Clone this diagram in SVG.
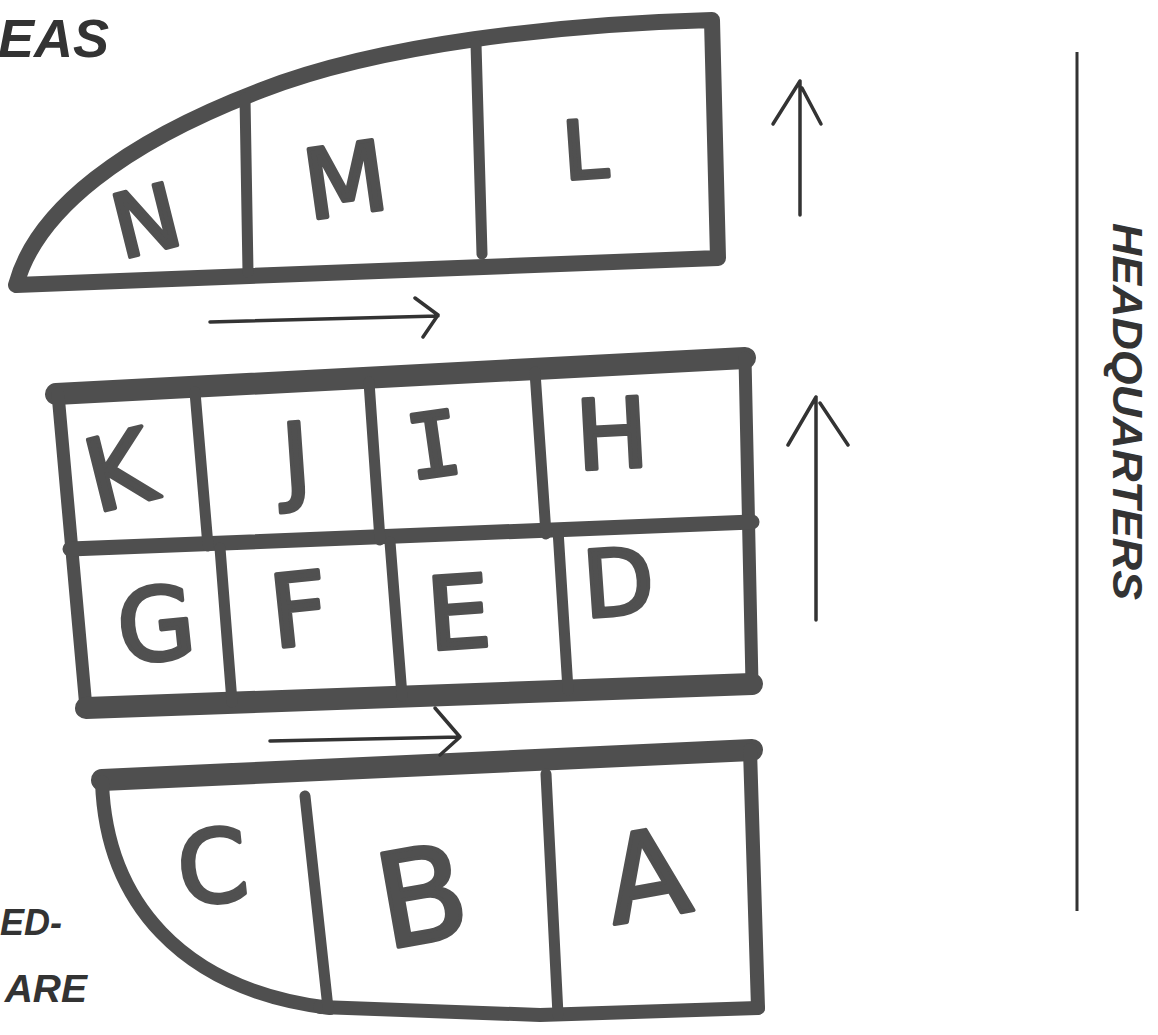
<svg xmlns="http://www.w3.org/2000/svg" width="1158" height="1035" viewBox="0 0 1158 1035">
<defs>
<style>
.wall{fill:none;stroke:#4f4f4f;stroke-linecap:round;stroke-linejoin:round}
.thick{stroke-width:16}
.mid{stroke-width:11}
.arrow{fill:none;stroke:#333;stroke-width:3.5;stroke-linecap:round;stroke-linejoin:round}
.lbl{font-family:"Liberation Sans",Arial,sans-serif;font-weight:bold;font-style:italic;fill:#333}
.hand{font-family:"DejaVu Sans","Liberation Sans",sans-serif;fill:#505050;stroke:#505050;stroke-width:4;stroke-linejoin:round;text-anchor:middle}
.mono{font-family:"DejaVu Sans Mono","Liberation Mono",monospace}
</style>
</defs>
<rect width="1158" height="1035" fill="#fff"/>

<g id="labels">
<text class="lbl" x="-2" y="57" font-size="54">EAS</text>
<text class="lbl" x="0" y="935" font-size="36">ED-</text>
<text class="lbl" x="87" y="1002" font-size="39" text-anchor="end">ARE</text>
<text class="lbl" font-size="42" transform="translate(1113,223) rotate(90)" textLength="377" lengthAdjust="spacingAndGlyphs">HEADQUARTERS</text>
</g>

<g id="hq-line">
<line x1="1077" y1="52" x2="1077" y2="911" stroke="#333" stroke-width="3"/>
</g>

<g id="block-top">
<path class="wall thick" d="M 712 20 C 560 24 380 44 262 90 C 125 142 36 210 16 285 L 718 258 L 712 20 Z"/>
<path class="wall mid" d="M 245 98 L 248 272"/>
<path class="wall mid" d="M 476 44 L 482 254"/>
<text class="hand" font-size="88" x="146" y="252" transform="rotate(-14 146 220)">N</text>
<text class="hand" font-size="96" x="345" y="214" transform="rotate(-8 345 178)">M</text>
<text class="hand" font-size="80" x="585" y="178" transform="rotate(-4 585 150)">L</text>
</g>

<g id="block-middle">
<path class="wall" stroke-width="22" d="M 56 394 L 745 358"/>
<path class="wall" stroke-width="13" d="M 58 394 L 86 708"/>
<path class="wall" stroke-width="13" d="M 745 358 L 752 684"/>
<path class="wall" stroke-width="22" d="M 86 708 L 752 684"/>
<path class="wall" stroke-width="15" d="M 70 549 L 752 522"/>
<path class="wall mid" d="M 195 392 L 208 546"/>
<path class="wall mid" d="M 369 382 L 380 540"/>
<path class="wall mid" d="M 535 372 L 546 534"/>
<path class="wall mid" d="M 220 548 L 232 702"/>
<path class="wall mid" d="M 390 542 L 402 696"/>
<path class="wall mid" d="M 558 530 L 568 690"/>
<text class="hand" font-size="100" x="118" y="506" transform="rotate(-14 118 465)">K</text>
<text class="hand" font-size="96" x="296" y="492" transform="rotate(-4 296 455)">J</text>
<text class="hand mono" font-size="88" x="434" y="476" transform="rotate(-8 434 445)">I</text>
<text class="hand" font-size="96" x="612" y="468" transform="rotate(-3 612 432)">H</text>
<text class="hand" font-size="100" x="155" y="660" transform="rotate(-6 155 615)">G</text>
<text class="hand" font-size="100" x="298" y="645" transform="rotate(-6 298 602)">F</text>
<text class="hand" font-size="100" x="458" y="648" transform="rotate(-4 458 605)">E</text>
<text class="hand" font-size="92" x="618" y="615" transform="rotate(-4 618 578)">D</text>
</g>

<g id="block-bottom">
<path class="wall" stroke-width="22" d="M 102 780 L 752 750"/>
<path class="wall" stroke-width="14" d="M 750 750 L 758 1008"/>
<path class="wall" stroke-width="14" d="M 102 782 C 106 900 180 990 330 1008"/>
<path class="wall" stroke-width="14" d="M 320 1007 L 540 1015 L 758 1008"/>
<path class="wall mid" d="M 305 796 L 328 1008"/>
<path class="wall mid" d="M 546 774 L 558 1015"/>
<text class="hand" font-size="100" x="212" y="902" transform="rotate(-6 212 862)">C</text>
<text class="hand" font-size="130" x="420" y="942" transform="rotate(-10 420 885)">B</text>
<text class="hand" font-size="120" x="644" y="918" transform="rotate(-10 644 860)">A</text>
</g>

<g id="connectors">
<path class="arrow" d="M 800 215 L 800 81 M 773 124 L 800 81 M 821 124 L 802 88"/>
<path class="arrow" d="M 816 620 L 816 397 M 788 445 L 816 397 M 848 445 L 820 403"/>
<path class="arrow" d="M 210 322 L 438 316 M 415 298 L 438 315 L 423 337"/>
<path class="arrow" d="M 270 741 L 460 737 M 435 708 L 460 737 L 440 755"/>
</g>
</svg>
